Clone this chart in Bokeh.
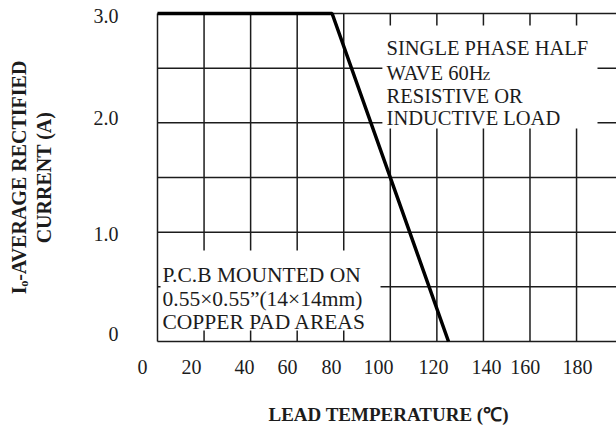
from bokeh.plotting import figure
from bokeh.models import Range1d, FixedTicker, ColumnDataSource, Title
from bokeh.core.properties import value
from bokeh.embed import file_html
from bokeh.resources import INLINE

# ---- data ----
curve_temp = [0, 75, 125]          # lead temperature (deg C)
curve_current = [3.0, 3.0, 0.0]    # average rectified current (A)

grid_x = [0, 20, 40, 60, 80, 100, 120, 140, 160, 180, 200]
grid_y = [0.0, 0.5, 1.0, 1.5, 2.0, 2.5, 3.0]

x_tick_values = [-6.4, 14.6, 37.4, 55.8, 74.7, 94.9, 118.5, 141.3, 158.0, 180.4]
x_tick_labels = ["0", "20", "40", "60", "80", "100", "120", "140", "160", "180"]
y_tick_values = [0.07, 0.98, 2.04, 2.98]
y_tick_labels = ["0", "1.0", "2.0", "3.0"]

FONT = "Liberation Serif"
INK = "#1c1c1c"

p = figure(frame_width=482, frame_height=336,
           min_border_left=134, min_border_right=0, min_border_top=9, min_border_bottom=87,
           x_range=Range1d(-9.88, 197.16), y_range=Range1d(-0.0366, 3.0366),
           output_backend="svg", toolbar_location=None)
p.xgrid.visible = False
p.ygrid.visible = False
p.outline_line_color = None
p.background_fill_color = "white"
p.border_fill_color = "white"

for ax in (p.xaxis[0], p.yaxis[0]):
    ax.axis_line_color = None
    ax.major_tick_line_color = None
    ax.minor_tick_line_color = None
    ax.major_label_text_font = FONT
    ax.major_label_text_font_size = "20px"
    ax.major_label_text_color = INK

p.xaxis.ticker = FixedTicker(ticks=x_tick_values)
p.xaxis.major_label_overrides = {v: l for v, l in zip(x_tick_values, x_tick_labels)}
p.xaxis.major_label_standoff = 8

p.yaxis.ticker = FixedTicker(ticks=y_tick_values)
p.yaxis.major_label_overrides = {v: l for v, l in zip(y_tick_values, y_tick_labels)}
p.yaxis.major_label_standoff = 10
p.yaxis.axis_label = "Iₒ-AVERAGE RECTIFIED\nCURRENT (A)"
p.yaxis.axis_label_standoff = 36
p.yaxis.axis_label_text_font = FONT
p.yaxis.axis_label_text_font_size = "20px"
p.yaxis.axis_label_text_font_style = "bold"
p.yaxis.axis_label_text_color = INK
p.yaxis.axis_label_text_line_height = 1.1

# grid
vsrc = ColumnDataSource(dict(x0=grid_x, x1=grid_x, y0=[grid_y[0]] * len(grid_x), y1=[grid_y[-1]] * len(grid_x)))
hsrc = ColumnDataSource(dict(x0=[grid_x[0]] * len(grid_y), x1=[grid_x[-1]] * len(grid_y), y0=grid_y, y1=grid_y))
p.segment("x0", "y0", "x1", "y1", source=vsrc, line_color=INK, line_width=1.5)
p.segment("x0", "y0", "x1", "y1", source=hsrc, line_color=INK, line_width=1.5)

# white note boxes
p.quad(left=[96.6, 1.3], right=[189.0, 95.8], top=[2.89, 0.832], bottom=[1.948, 0.10],
       fill_color="white", line_color=None)

# curve
p.line(curve_temp, curve_current, line_color="black", line_width=3.5)

# notes
p.text(x=[98.4] * 4, y=[2.689, 2.460, 2.250, 2.040],
       text=["SINGLE PHASE HALF", "WAVE 60H", "RESISTIVE OR", "INDUCTIVE LOAD"],
       text_font=value(FONT), text_font_size=value("20.5px"), text_color=INK,
       text_align="left", text_baseline="alphabetic")
p.text(x=[139.6], y=[2.437], text=["Z"],
       text_font=value(FONT), text_font_size=value("13px"), text_color=INK,
       text_align="left", text_baseline="alphabetic")
p.text(x=[2.15] * 3, y=[0.604, 0.393, 0.174],
       text=["P.C.B MOUNTED ON", "0.55×0.55”(14×14mm)", "COPPER PAD AREAS"],
       text_font=value(FONT), text_font_size=value("21.5px"), text_color=INK,
       text_align="left", text_baseline="alphabetic")

# x title
p.add_layout(Title(text="LEAD TEMPERATURE (℃)", align="left", offset=134, standoff=51,
                   text_font=FONT, text_font_size="19px", text_font_style="bold",
                   text_color=INK), "below")

open("out.html", "w").write(file_html(p, INLINE))
